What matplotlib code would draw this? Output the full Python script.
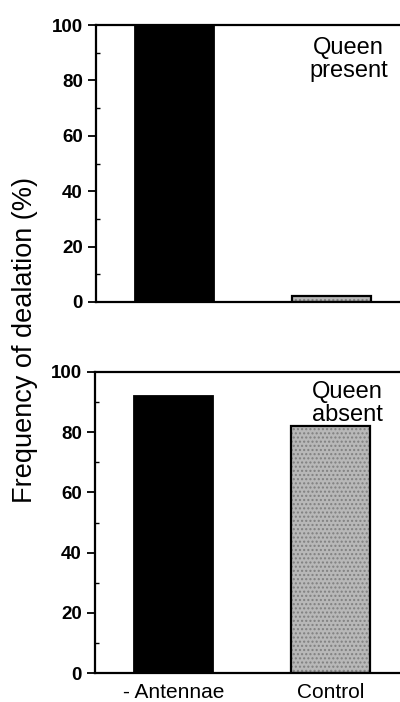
import matplotlib.pyplot as plt
import numpy as np

plt.rcParams["font.family"] = ["Liberation Sans", "DejaVu Sans"]

# treatments and dealation frequency (%)
treatments = ["- Antennae", "Control"]
queen_present = [100, 2]
queen_absent = [92, 82]
panel_labels = ["Queen\npresent", "Queen\nabsent"]

bar_colors = ["black", "#b8b8b8"]

fig = plt.figure(figsize=(4.0, 7.02), dpi=100)
W, H = 400, 702
# axes boxes in pixels: left, top, right, bottom
boxes = [(96, 25, 402, 302), (95, 372, 402, 673)]
label_y = [95.5, 97]

x = np.arange(len(treatments))
for i, (vals, label) in enumerate(zip([queen_present, queen_absent], panel_labels)):
    l, t, r, b = boxes[i]
    ax = fig.add_axes([l / W, 1 - b / H, (r - l) / W, (b - t) / H])
    ax.bar(x, vals, width=0.5, color=bar_colors, edgecolor="black", linewidth=1.3)
    ax.bar(x[1:], vals[1:], width=0.5, color="none", edgecolor="#808080",
           hatch="....", linewidth=0)
    ax.bar(x[1:], vals[1:], width=0.5, color="none", edgecolor="black", linewidth=1.6)
    ax.set_xlim(-0.5, -0.5 + (r - l) / 157)
    ax.set_ylim(0, 100)
    ax.set_yticks(np.arange(0, 101, 20))
    ax.set_yticks(np.arange(10, 100, 20), minor=True)
    ax.tick_params(axis="y", which="major", direction="out", length=6, width=1.3,
                   labelsize=13.5, pad=3.5)
    ax.tick_params(axis="y", which="minor", direction="in", length=3, width=1)
    for lab in ax.get_yticklabels():
        lab.set_fontweight("bold")
    ax.spines["right"].set_visible(False)
    for s in ["left", "top", "bottom"]:
        ax.spines[s].set_linewidth(1.6)
    ax.text(1.11, label_y[i], label, ha="center", va="top", fontsize=17,
            linespacing=1.05)
    if i == 0:
        ax.set_xticks([])
    else:
        ax.set_xticks(x)
        ax.set_xticklabels(treatments, fontsize=15)
        ax.tick_params(axis="x", length=0, pad=7)

fig.text(25 / W, 1 - 340 / H, "Frequency of dealation (%)", rotation=90,
         ha="center", va="center", fontsize=19.5)

fig.savefig("out.png", dpi=100)
